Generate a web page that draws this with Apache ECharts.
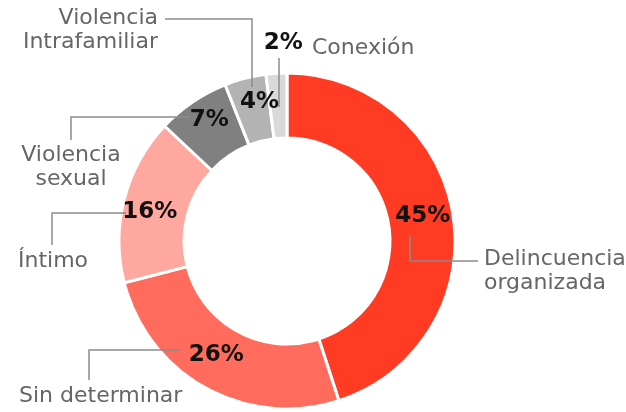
<!DOCTYPE html>
<html>
<head>
<meta charset="utf-8">
<title></title>
<script src="https://cdn.jsdelivr.net/npm/echarts@6/dist/echarts.min.js"></script>
<style>
  * {margin: 0; padding: 0;}
  html, body {width: 626px; height: 412px; background: #fff; overflow: hidden;}
  #chart {width: 626px; height: 412px;}
</style>
</head>
<body>
<div id="chart"></div>
<script>
var categories = ['Delincuencia organizada', 'Sin determinar', 'Íntimo', 'Violencia sexual', 'Violencia Intrafamiliar', 'Conexión'];
var labelNames = ['Delincuencia\norganizada', 'Sin determinar', 'Íntimo', 'Violencia\nsexual', 'Violencia\nIntrafamiliar', 'Conexión'];
var values = [45, 26, 16, 7, 4, 2];
var sliceColors = ['#ff3b23', '#ff6b5d', '#ffa89f', '#808080', '#b3b3b3', '#d9d9d9'];

// layout: pie centre in px, label nudges and leader lines relative to centre
var cx = 287, cy = 241;
var pctNudge = [[-1, -3], [-4, -7], [-3, 5], [0, -6], [7, -5], [5, -60]];
var nameLayout = [
  {x: 197, y: 30, align: 'left', line: [[123, -6], [123, 20], [191, 20]]},
  {x: -268, y: 155, align: 'left', line: [[-107, 109], [-198, 109], [-198, 139]]},
  {x: -269, y: 20, align: 'left', line: [[-161, -28], [-235, -28], [-235, 4]]},
  {x: -216, y: -74, align: 'center', line: [[-97, -124], [-216, -124], [-216, -101]]},
  {x: -129, y: -211, align: 'right', line: [[-35, -154], [-35, -222], [-122, -222]]},
  {x: 25, y: -193, align: 'left', line: [[-8, -134], [-8, -183]]}
];

var chart = echarts.init(document.getElementById('chart'));

var pieData = [];
var ghostData = [];
for (var i = 0; i < values.length; i++) {
  pieData.push({name: categories[i], value: values[i], itemStyle: {color: sliceColors[i]}});
  ghostData.push({name: categories[i], value: values[i]});
}

var option = {
  animation: false,
  series: [
    {
      type: 'pie',
      z: 2,
      center: [cx, cy],
      radius: [103, 168],
      startAngle: 90,
      avoidLabelOverlap: false,
      silent: true,
      itemStyle: {borderColor: '#fff', borderWidth: 3},
      label: {
        show: true,
        position: 'inside',
        formatter: '{c}%',
        color: '#111',
        fontFamily: 'DejaVu Sans',
        fontWeight: 'bold',
        fontSize: 23
      },
      labelLine: {show: false},
      labelLayout: function (p) {
        return {dx: pctNudge[p.dataIndex][0], dy: pctNudge[p.dataIndex][1]};
      },
      data: pieData
    },
    {
      type: 'pie',
      z: 5,
      center: [cx, cy],
      radius: [103, 168],
      startAngle: 90,
      avoidLabelOverlap: false,
      silent: true,
      itemStyle: {color: 'rgba(0,0,0,0)'},
      label: {
        show: true,
        position: 'outside',
        formatter: function (p) { return labelNames[p.dataIndex]; },
        color: '#666',
        fontFamily: 'DejaVu Sans',
        fontSize: 22,
        lineHeight: 24
      },
      labelLine: {show: true, lineStyle: {color: '#8c8c8c', width: 1.5, opacity: 1}},
      labelLayout: function (p) {
        var l = nameLayout[p.dataIndex];
        var pts = l.line.map(function (q) { return [cx + q[0], cy + q[1]]; });
        return {x: cx + l.x, y: cy + l.y, align: l.align, verticalAlign: 'middle', labelLinePoints: pts};
      },
      data: ghostData
    }
  ]
};

chart.setOption(option);
</script>
</body>
</html>
